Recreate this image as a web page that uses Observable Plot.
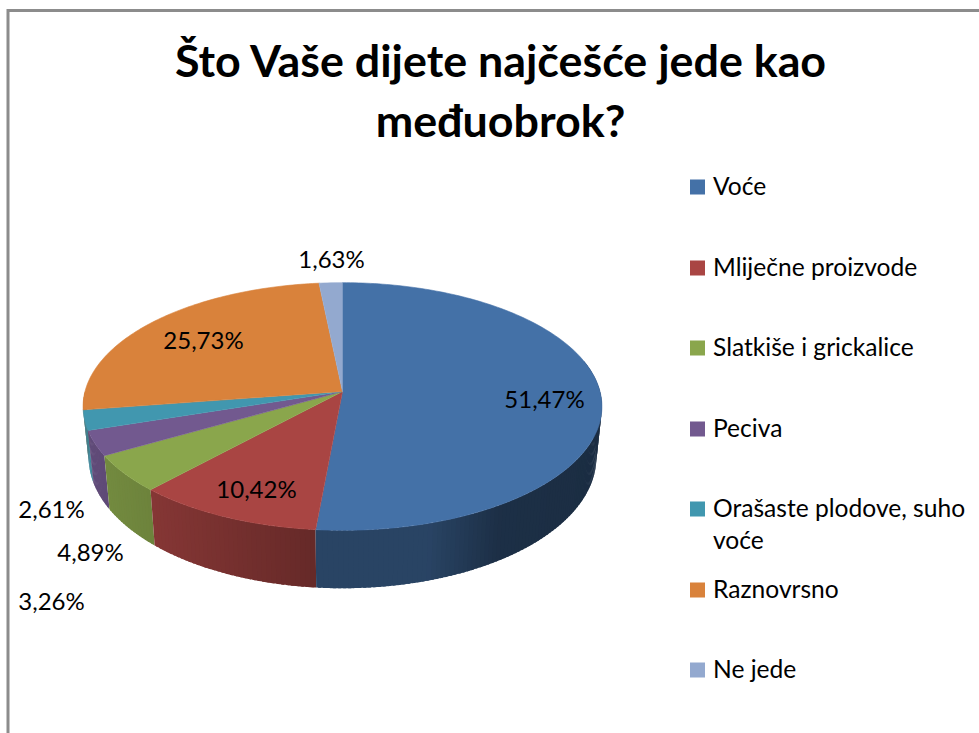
<!DOCTYPE html>
<html>
<head>
<meta charset="utf-8">
<script src="https://cdn.jsdelivr.net/npm/d3@7"></script>
<script src="https://cdn.jsdelivr.net/npm/@observablehq/plot@0.6"></script>
<style>html,body{margin:0;padding:0;background:#fff}svg{display:block}</style>
</head>
<body>
<div id="chart"></div>
<script>
const categories = ["Voće","Mliječne proizvode","Slatkiše i grickalice","Peciva","Orašaste plodove, suho voće","Raznovrsno","Ne jede"];
const values = [51.47,10.42,4.89,3.26,2.61,25.73,1.63];
const valueLabels = ["51,47%","10,42%","4,89%","3,26%","2,61%","25,73%","1,63%"];
const colors = ["#4471a7","#a94543","#8aa64c","#72598f","#4197af","#d9823b","#93a9cf"];
const labelX = [544,256,90,51,51,203,331];
const labelY = [400,490,553,602,510,341,260];
const legendY = [187,268,348,429,509,590,670];
const titleLines = ["Što Vaše dijete najčešće jede kao","međuobrok?"];

const FONT = "Lato, Carlito, sans-serif";
const total = d3.sum(values);
const k = 0.121, cx = 342;
const topRim = {a:257.5, b:122, y0:391};
const lowRim = {a:252, b:129, y0:441};
const proj = (rim, deg) => {
  const t = deg*Math.PI/180, u = Math.sin(t), v = -Math.cos(t), w = 1-k*v;
  return {x:cx+rim.a*u/w, y:rim.y0+rim.b*v/w};
};
const cum = d3.cumsum(values);
const bounds = values.map((d,i)=>({start:(i?cum[i-1]:0)/total*360, end:cum[i]/total*360}));

const topPts = [];
bounds.forEach((b,i)=>{
  topPts.push({id:i,x:cx,y:topRim.y0,fill:colors[i]});
  for(let a=b.start;;a+=1){
    const d=Math.min(a,b.end);
    topPts.push({id:i,...proj(topRim,d),fill:colors[i]});
    if(d>=b.end)break;
  }
});

const shade = d3.scaleLinear().domain([85,150,316,430,500,600]).range([.85,.79,.6,.6,.42,.4]).clamp(true);
const darker = (c,f)=>{const r=d3.rgb(c);return d3.rgb(r.r*f,r.g*f,r.b*f).formatHex();};
const wallPts = [];
let sid=0;
// Each strip runs on under the next one, so no seam shows between neighbours.
[...bounds.entries()].reverse().forEach(([i,b])=>{
  const s=Math.max(b.start,75), e=Math.min(b.end,270);
  if(e<=s)return;
  for(let a=e-1;a>-Infinity;a-=1){
    const lo=Math.max(a,s), hi=Math.min(a+1.6,e);
    const side=[];
    for(let d=lo;d<hi;d+=.4)side.push(d);
    side.push(hi);
    const f=darker(colors[i],shade(proj(topRim,(lo+hi)/2).x));
    side.forEach(d=>wallPts.push({id:sid,...proj(topRim,d),fill:f}));
    side.slice().reverse().forEach(d=>wallPts.push({id:sid,...proj(lowRim,d),fill:f}));
    sid++;
    if(lo<=s)break;
  }
});

const rows = categories.map((c,i)=>({c,i,y:legendY[i]}));
const legendText = [];
rows.forEach(r=>{
  if(r.i===4){
    legendText.push({t:"Orašaste plodove, suho",y:509},{t:"voće",y:541});
  } else legendText.push({t:r.c,y:r.y});
});

const plot = Plot.plot({
  width:979,height:733,margin:0,
  x:{domain:[0,979],range:[0,979],axis:null},
  y:{domain:[0,733],range:[0,733],axis:null},
  color:{type:"identity"},
  style:{fontFamily:FONT,background:"#fff",color:"#000"},
  marks:[
    Plot.ruleY([10],{x1:7,x2:979,stroke:"#8c8c8c",strokeWidth:3}),
    Plot.ruleX([7.5],{y1:9,y2:733,stroke:"#8c8c8c",strokeWidth:3}),
    Plot.line(wallPts,{x:"x",y:"y",z:"id",fill:"fill",stroke:null}),
    Plot.line(topPts,{x:"x",y:"y",z:"id",fill:"fill",stroke:"fill",strokeWidth:.6}),
    Plot.text(valueLabels,{x:(d,i)=>labelX[i],y:(d,i)=>labelY[i],text:d=>d,fontSize:24,fontFamily:FONT,fill:"#000"}),
    Plot.text(titleLines,{x:()=>500,y:(d,i)=>[62,122][i],text:d=>d,fontSize:44.8,fontWeight:"bold",fontFamily:FONT,fill:"#000"}),
    Plot.rect(rows,{x1:()=>690,x2:()=>705,y1:d=>d.y-7.5,y2:d=>d.y+7.5,fill:d=>colors[d.i]}),
    Plot.text(legendText,{x:()=>712.5,y:"y",text:"t",textAnchor:"start",fontSize:24.6,fontFamily:FONT,fill:"#000"})
  ]
});
document.getElementById("chart").append(plot);
</script>
</body>
</html>
